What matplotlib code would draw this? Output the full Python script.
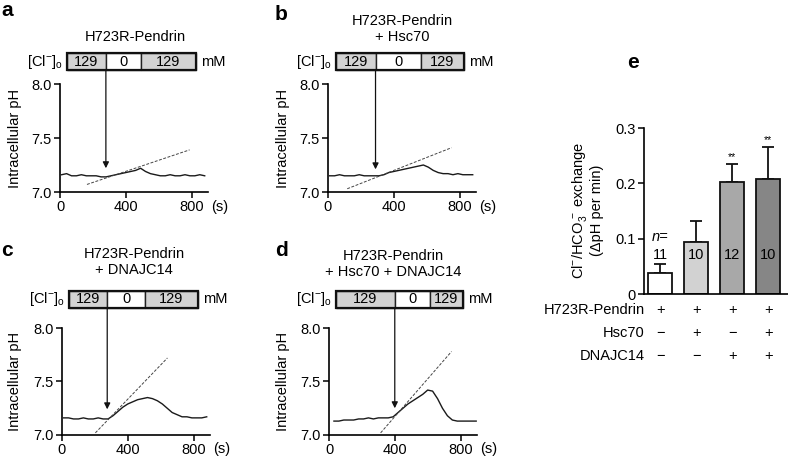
import matplotlib
matplotlib.use("Agg")
import matplotlib.pyplot as plt
import matplotlib.transforms as mtrans
from matplotlib.patches import Rectangle

plt.rcParams['font.family'] = ['Liberation Sans', 'DejaVu Sans']
plt.rcParams['mathtext.fontset'] = 'custom'
plt.rcParams['mathtext.rm'] = 'Liberation Sans'
plt.rcParams['mathtext.it'] = 'Liberation Sans:italic'
plt.rcParams['mathtext.bf'] = 'Liberation Sans:bold'
plt.rcParams['mathtext.default'] = 'regular'

# ---------------- data ----------------
t_abc = [10, 40, 70, 100, 130, 160, 190, 220, 250, 280, 310, 340, 370, 400, 430,
         460, 490, 520, 550, 580, 610, 640, 670, 700, 730, 760, 790, 820, 850, 880]
t_d = [30, 60, 90, 120, 150, 180, 210, 240, 270, 300, 330, 360, 390, 420, 450,
       480, 510, 540, 570, 600, 630, 660, 690, 720, 750, 780, 810, 840, 870, 895]

ph_a = [7.16, 7.17, 7.15, 7.15, 7.16, 7.15, 7.15, 7.15, 7.14, 7.14, 7.15, 7.16, 7.17, 7.18, 7.19,
        7.20, 7.22, 7.19, 7.17, 7.16, 7.15, 7.15, 7.16, 7.15, 7.15, 7.16, 7.15, 7.15, 7.16, 7.15]
ph_b = [7.15, 7.15, 7.16, 7.15, 7.15, 7.15, 7.16, 7.15, 7.15, 7.15, 7.15, 7.16, 7.18, 7.19, 7.20,
        7.21, 7.22, 7.23, 7.24, 7.25, 7.23, 7.20, 7.18, 7.17, 7.17, 7.16, 7.17, 7.16, 7.16, 7.16]
ph_c = [7.16, 7.16, 7.15, 7.15, 7.16, 7.15, 7.15, 7.16, 7.15, 7.15, 7.18, 7.22, 7.26, 7.29, 7.31,
        7.33, 7.34, 7.35, 7.34, 7.32, 7.29, 7.25, 7.21, 7.19, 7.17, 7.17, 7.16, 7.16, 7.16, 7.17]
ph_d = [7.13, 7.13, 7.14, 7.14, 7.14, 7.15, 7.15, 7.16, 7.15, 7.16, 7.16, 7.16, 7.17, 7.21, 7.25,
        7.29, 7.32, 7.35, 7.38, 7.42, 7.41, 7.34, 7.25, 7.18, 7.14, 7.13, 7.13, 7.13, 7.13, 7.13]

# slope fit lines: (t0, pH0, t1, pH1)
fit_a = [164, 7.07, 788, 7.39]
fit_b = [117, 7.03, 751, 7.41]
fit_c = [203, 7.02, 641, 7.72]
fit_d = [314, 7.02, 745, 7.78]

# [Cl-]o solution change edges (s) and concentrations (mM)
stim_a = [42, 279, 491, 824]
stim_b = [49, 289, 566, 825]
stim_c = [42, 275, 506, 825]
stim_d = [43, 400, 615, 812]
stim_labels = ["129", "0", "129"]
arrow_tip = [7.22, 7.21, 7.24, 7.25]

titles = ["H723R-Pendrin", "H723R-Pendrin\n+ Hsc70",
          "H723R-Pendrin\n+ DNAJC14", "H723R-Pendrin\n+ Hsc70 + DNAJC14"]

# panel e
groups = ["1", "2", "3", "4"]
rates = [0.038, 0.094, 0.203, 0.208]
sems = [0.016, 0.038, 0.032, 0.058]
n_cells = ["11", "10", "12", "10"]
signif = ["", "", "**", "**"]
row_names = ["H723R-Pendrin", "Hsc70", "DNAJC14"]
row_signs = [["+", "+", "+", "+"],
             ["\u2212", "+", "\u2212", "+"],
             ["\u2212", "\u2212", "+", "+"]]
bar_colors = ["white", "#d2d2d2", "#a8a8a8", "#868686"]

# ---------------- figure ----------------
W, H = 788, 459
fig = plt.figure(figsize=(W / 100, H / 100), dpi=100)

def add_ax(l, t, r, b):
    return fig.add_axes([l / W, 1 - b / H, (r - l) / W, (b - t) / H])

FS = 10.5

def style(ax):
    for s in ['top', 'right']:
        ax.spines[s].set_visible(False)
    for s in ['left', 'bottom']:
        ax.spines[s].set_linewidth(1.2)
    ax.tick_params(direction='out', length=4, width=1.1, labelsize=FS, pad=2)

trace_boxes = [(60, 84, 208, 192), (328, 84, 476, 192),
               (62, 328, 210, 435), (329, 328, 477, 435)]
traces = [(t_abc, ph_a), (t_abc, ph_b), (t_abc, ph_c), (t_d, ph_d)]
fits = [fit_a, fit_b, fit_c, fit_d]
stims = [stim_a, stim_b, stim_c, stim_d]
stim_y = [(1.13, 1.285), (1.13, 1.285), (1.19, 1.345), (1.19, 1.345)]
title_pos = [(135, 37), (402, 29), (134, 262), (393, 264)]
ylab_x = [15, 283, 15, 283]
letters = ["a", "b", "c", "d"]
letter_pos = [(7, 10), (281, 15), (7, 251), (281, 250)]

for i in range(4):
    l, t, r, b = trace_boxes[i]
    ax = add_ax(l, t, r, b)
    style(ax)
    tt, pp = traces[i]
    ax.plot(tt, pp, color='#1a1a1a', lw=1.0)
    f = fits[i]
    ax.plot([f[0], f[2]], [f[1], f[3]], color='#444444', lw=0.7,
            linestyle=(0, (3, 1.6)))
    ax.set_xlim(0, 900)
    ax.set_ylim(7.0, 8.0)
    ax.set_xticks([0, 400, 800])
    ax.set_yticks([7.0, 7.5, 8.0])
    ax.set_yticklabels(["7.0", "7.5", "8.0"])
    ax.text(1.02, -0.135, "(s)", transform=ax.transAxes, fontsize=FS,
            ha='left', va='center')

    blend = mtrans.blended_transform_factory(ax.transData, ax.transAxes)
    e = stims[i]
    y0, y1 = stim_y[i]
    fills = ['#d3d3d3', 'white', '#d3d3d3']
    for k in range(3):
        ax.add_patch(Rectangle((e[k], y0), e[k + 1] - e[k], y1 - y0, transform=blend,
                               facecolor=fills[k], edgecolor='#222222', lw=1.0,
                               clip_on=False))
        ax.text((e[k] + e[k + 1]) / 2, (y0 + y1) / 2, stim_labels[k], transform=blend,
                ha='center', va='center', fontsize=FS)
    ax.add_patch(Rectangle((e[0], y0), e[-1] - e[0], y1 - y0, transform=blend,
                           facecolor='none', edgecolor='#111111', lw=1.6, clip_on=False))
    ax.annotate(r"[Cl$^{-}$]$_{o}$", xy=(e[0], (y0 + y1) / 2), xycoords=blend,
                xytext=(-3, 0), textcoords='offset points', ha='right', va='center',
                fontsize=FS, annotation_clip=False)
    ax.annotate("mM", xy=(e[-1], (y0 + y1) / 2), xycoords=blend,
                xytext=(4, 0), textcoords='offset points', ha='left', va='center',
                fontsize=FS, annotation_clip=False)
    ax.annotate("", xy=(e[1], arrow_tip[i]), xycoords='data',
                xytext=(e[1], y0), textcoords=blend,
                arrowprops=dict(arrowstyle='-|>', lw=0.9, color='#111111',
                                mutation_scale=9, shrinkA=0, shrinkB=0),
                annotation_clip=False)

    tx, ty = title_pos[i]
    fig.text(tx / W, 1 - ty / H, titles[i], ha='center', va='center',
             fontsize=FS, linespacing=1.2)
    fig.text(ylab_x[i] / W, 1 - ((t + b) / 2) / H, "Intracellular pH", rotation=90,
             ha='center', va='center', fontsize=FS)
    lx, ly = letter_pos[i]
    fig.text(lx / W, 1 - ly / H, letters[i], ha='center', va='center',
             fontsize=15, fontweight='bold')

# ---------------- panel e ----------------
axe = add_ax(644, 128, 788, 294)
style(axe)
xs = list(range(len(groups)))
axe.bar(xs, rates, width=0.68, color=bar_colors, edgecolor='#111111', lw=1.3, zorder=2)
axe.errorbar(xs, rates, yerr=[[0] * len(sems), sems], fmt='none', ecolor='#111111',
             elinewidth=1.3, capsize=4.5, capthick=1.3, zorder=1)
axe.set_xlim(-0.45, 3.55)
axe.set_ylim(0, 0.3)
axe.set_yticks([0, 0.1, 0.2, 0.3])
axe.set_yticklabels(["0", "0.1", "0.2", "0.3"])
axe.set_xticks([])
axe.spines['bottom'].set_bounds(-0.45, 3.7)
for k in xs:
    axe.text(k, 0.0705, n_cells[k], ha='center', va='center', fontsize=FS)
    if signif[k]:
        axe.text(k, rates[k] + sems[k] + 0.012, signif[k], ha='center', va='center',
                 fontsize=7.5)
axe.text(0, 0.103, "n=", ha='center', va='center', fontsize=FS, style='italic')

row_y = [310, 333, 356]
blend_e = mtrans.blended_transform_factory(axe.transData, fig.transFigure)
for j, name in enumerate(row_names):
    fig.text(645 / W, 1 - row_y[j] / H, name, ha='right', va='center', fontsize=FS)
    for k in xs:
        axe.text(k, 1 - row_y[j] / H, row_signs[j][k], transform=blend_e,
                 ha='center', va='center', fontsize=FS, clip_on=False)

fig.text(587 / W, 1 - 210 / H,
         "Cl$^{-}$/HCO$_{3}^{\\,-}$ exchange\n(\u0394pH per min)",
         rotation=90, ha='center', va='center', fontsize=FS, linespacing=1.15)
fig.text(633 / W, 1 - 62 / H, "e", ha='center', va='center', fontsize=15,
         fontweight='bold')

fig.savefig("out.png", dpi=100)
